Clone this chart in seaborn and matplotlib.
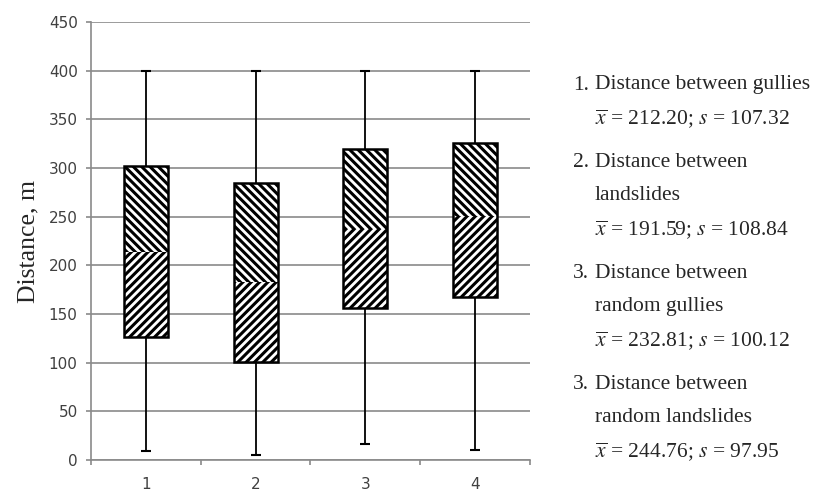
import numpy as np
import pandas as pd
import seaborn as sns
import matplotlib.pyplot as plt

# box statistics (metres)
groups = ["1", "2", "3", "4"]
whisker_low = [9, 5, 16, 10]
q1 = [126, 101, 156, 167]
median = [214, 183, 237, 251]
q3 = [302, 285, 320, 326]
whisker_high = [400, 400, 400, 400]

# text blocks on the right
legend_numbers = ["1.", "2.", "3.", "3."]
legend_blocks = [
    ["Distance between gullies", r"$\overline{x}$ = 212.20; $s$ = 107.32"],
    ["Distance between", "landslides", r"$\overline{x}$ = 191.59; $s$ = 108.84"],
    ["Distance between", "random gullies", r"$\overline{x}$ = 232.81; $s$ = 100.12"],
    ["Distance between", "random landslides", r"$\overline{x}$ = 244.76; $s$ = 97.95"],
]

sns.set_theme(style="white")
plt.rcParams["font.family"] = ["DejaVu Sans"]
plt.rcParams["mathtext.fontset"] = "stix"
plt.rcParams["hatch.linewidth"] = 2.2

df = pd.DataFrame({
    "group": groups,
    "q1": q1,
    "lower": np.subtract(median, q1),
    "median": median,
    "upper": np.subtract(q3, median),
    "iqr": np.subtract(q3, q1),
})

fig = plt.figure(figsize=(8.16, 4.92), dpi=100)
ax = fig.add_axes([0.1115, 0.065, 0.538, 0.8903])

box_w = 0.4
# lower half of each box (q1 -> median), hatch only
sns.barplot(data=df, x="group", y="lower", bottom=df["q1"].to_numpy(), color="white",
            width=box_w, errorbar=None, edgecolor="black", linewidth=0,
            hatch="////", ax=ax, zorder=3)
# upper half (median -> q3)
sns.barplot(data=df, x="group", y="upper", bottom=df["median"].to_numpy(), color="white",
            width=box_w, errorbar=None, edgecolor="black", linewidth=0,
            hatch="\\\\\\\\", ax=ax, zorder=3)
# box outline q1 -> q3
sns.barplot(data=df, x="group", y="iqr", bottom=df["q1"].to_numpy(), color="black",
            fill=False, width=box_w, errorbar=None, linewidth=1.8, ax=ax, zorder=4)

# whiskers and caps
pos = np.arange(len(groups))
cap = 0.045
ax.vlines(pos, q3, whisker_high, color="black", linewidth=1.3, zorder=2)
ax.vlines(pos, whisker_low, q1, color="black", linewidth=1.3, zorder=2)
ax.hlines(whisker_high, pos - cap, pos + cap, color="black", linewidth=1.5, zorder=2)
ax.hlines(whisker_low, pos - cap, pos + cap, color="black", linewidth=1.5, zorder=2)

ax.set_xlim(-0.5, len(groups) - 0.5)
ax.set_ylim(0, 450)
ax.set_yticks(np.arange(0, 451, 50))
ax.set_xticks(np.arange(-0.5, len(groups), 1), minor=True)

grid_col = "#8a8a8a"
ax.yaxis.grid(True, color=grid_col, linewidth=1.2)
ax.xaxis.grid(False)
ax.set_axisbelow(True)
for side in ["top", "right"]:
    ax.spines[side].set_visible(False)
for side in ["left", "bottom"]:
    ax.spines[side].set_color(grid_col)
    ax.spines[side].set_linewidth(1.2)

ax.tick_params(axis="y", which="major", left=True, length=3.6, width=1.2, color=grid_col,
               pad=6, labelsize=11, labelcolor="#404040")
ax.tick_params(axis="x", which="major", bottom=True, length=0, pad=12,
               labelsize=11, labelcolor="#404040")
ax.tick_params(axis="x", which="minor", bottom=True, length=3.6, width=1.2, color=grid_col)

ax.set_xlabel("")
ax.set_ylabel("Distance, m", fontsize=18.5, family=["Liberation Serif"])
ax.yaxis.set_label_coords(-0.118, 0.5)

# right-hand description text
W, H = 816, 492
y = 85
for num, block in zip(legend_numbers, legend_blocks):
    fig.text(573 / W, 1 - y / H, num, fontsize=15.5, family=["Liberation Serif"], va="center")
    for line in block:
        fig.text(595 / W, 1 - y / H, line, fontsize=15.5, family=["Liberation Serif"], va="center")
        y += 33.5
    y += 10.5

fig.savefig("out.png", dpi=100)
